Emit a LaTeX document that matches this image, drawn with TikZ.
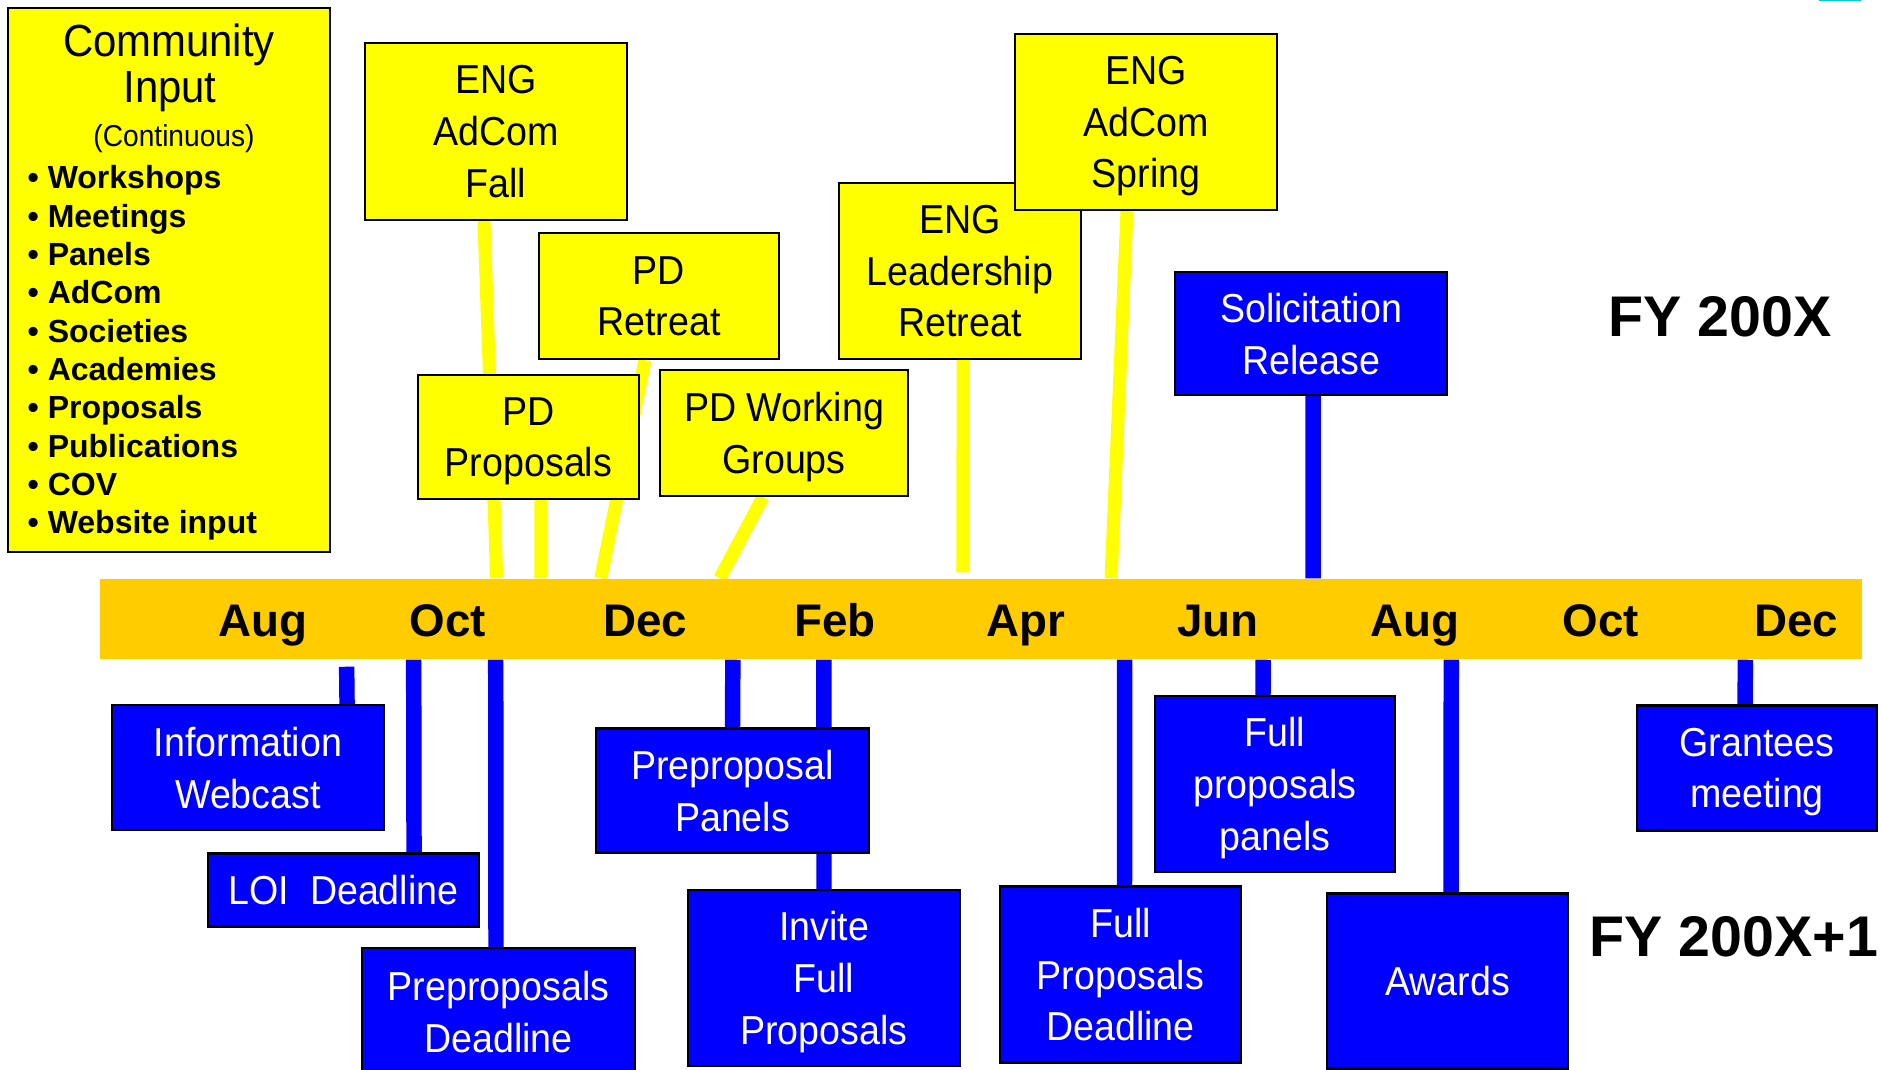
\documentclass[tikz,border=0pt]{standalone}
\usepackage{fontspec}
\setmainfont{Liberation Sans}
\newfontfamily\narrowfont[FakeStretch=0.93]{Liberation Sans}
\definecolor{eventyellow}{RGB}{255,255,0}
\definecolor{eventblue}{RGB}{0,0,255}
\definecolor{baramber}{RGB}{255,204,0}
\definecolor{edgecyan}{RGB}{0,204,204}
\usetikzlibrary{backgrounds}

\tikzset{
  boxsize/.style 2 args={minimum width=#1*0.01cm, minimum height=#2*0.01cm},
  eventbox/.style={draw=black, line width=0.6pt, inner sep=0pt, align=center,
    text depth=0pt, font=\narrowfont\fontsize{11.5}{14.7}\selectfont},
  yellowbox/.style={eventbox, fill=eventyellow, text=black},
  bluebox/.style={eventbox, fill=eventblue, text=white},
  yline/.style={eventyellow, line width=3.7pt},
  bline/.style={eventblue, line width=4.4pt},
  month/.style={font=\bfseries\fontsize{13}{15}\selectfont, anchor=base, inner sep=0pt},
  fylabel/.style={font=\bfseries\fontsize{16.3}{18}\selectfont, inner sep=0pt},
  listitem/.style={font=\bfseries\fontsize{9.1}{11}\selectfont, anchor=base west, inner sep=0pt},
}

\begin{document}
\begin{tikzpicture}[x=0.01cm, y=-0.01cm]
    \useasboundingbox (0,0) rectangle (1881,1070);
    \fill[edgecyan] (1819,0) rectangle (1861,1.5);
    % Time bar
    \node[fill=baramber, minimum width=17.6cm, minimum height=0.8cm, inner sep=0pt] (bar) at (981,619) {};
    \foreach \x/\m [count=\i] in {263/Aug, 448/Oct, 645/Dec, 835/Feb, 1026/Apr,
                                  1218/Jun, 1415/Aug, 1601/Oct, 1796/Dec}
      \node[month] (month\i) at (\x,636) {\m};
    % Community input
    \node[yellowbox, boxsize={322}{544}] (input) at (169,280) {};
    \node[anchor=base, inner sep=0pt, font=\narrowfont\fontsize{12.8}{13}\selectfont] (intitle) at (169,57) {Community};
    \node[anchor=base, inner sep=0pt, font=\narrowfont\fontsize{12.8}{13}\selectfont] (inname) at (170,103) {Input};
    \node[anchor=base, inner sep=0pt, font=\narrowfont\fontsize{8.6}{10}\selectfont] (incont) at (174,147) {(Continuous)};
    \foreach \item [count=\i from 0] in {Workshops, Meetings, Panels, AdCom, Societies,
                                        Academies, Proposals, Publications, COV, Website input}
      \node[listitem] (item\i) at (27,189+38.3*\i) {• \item};
    % Events above the bar
    \node[yellowbox, boxsize={262}{177}] (fall) at (496,131.5) {ENG\\AdCom\\Fall};
    \node[yellowbox, boxsize={240}{126}] (retreat) at (659,296) {PD\\Retreat};
    \node[yellowbox, boxsize={221}{124}] (pdprop) at (528.5,437) {PD\\Proposals};
    \node[yellowbox, boxsize={248}{126}] (groups) at (784,433) {PD Working\\Groups};
    \node[yellowbox, boxsize={242}{176}] (leader) at (960,271) {ENG\\Leadership\\Retreat};
    \node[yellowbox, boxsize={262}{176}] (spring) at (1146,122) {ENG\\AdCom\\Spring};
    \node[bluebox, boxsize={272}{123}] (solicit) at (1311,333.5) {Solicitation\\Release};
    % Events below the bar
    \node[bluebox, boxsize={272}{125}] (webcast) at (248,767.5) {Information\\Webcast};
    \node[bluebox, boxsize={271}{73}] (loi) at (343.5,890) {LOI\ \ Deadline};
    \node[bluebox, boxsize={273}{128}] (ppdead) at (498.5,1012) {Preproposals\\Deadline};
    \node[bluebox, boxsize={273}{124}] (pppanels) at (732.5,790.5) {Preproposal\\Panels};
    \node[bluebox, boxsize={272}{176}] (invite) at (824,978) {Invite\\Full\\Proposals};
    \node[bluebox, boxsize={241}{176}] (fpdead) at (1120.5,974.5) {Full\\Proposals\\Deadline};
    \node[bluebox, boxsize={240}{176}] (fppanels) at (1275,784) {Full\\proposals\\panels};
    \node[bluebox, boxsize={241}{175}] (awards) at (1447.5,981) {Awards};
    \node[bluebox, boxsize={240}{125}] (grantees) at (1757,768) {Grantees\\meeting};
    % Fiscal years
    \node[fylabel] (fyone) at (1720,317) {FY 200X};
    \node[fylabel] (fytwo) at (1734,937) {FY 200X+1};
    % Stems
    \begin{scope}[on background layer]
      \foreach \n/\a/\b in {fall/-0.12/-4.84, pdprop/0.125/-4.40, retreat/-0.14/-3.80,
                            groups/-0.21/-2.61, spring/-0.19/1.30}
        \draw[yline] ([xshift=\a cm]\n.south) -- ([xshift=\b cm]bar.north);
      \draw[yline] ([xshift=0.03cm]leader.south) -- ([xshift=-0.18cm, yshift=0.06cm]bar.north);
      \draw[bline] ([xshift=0.02cm]solicit.south) -- ([xshift=3.32cm]bar.north);
      \draw[bline] ([xshift=-6.34cm, yshift=-0.07cm]bar.south) -- ([xshift=0.99cm]webcast.north);
      \foreach \n/\a/\b in {loi/-5.67/0.705, ppdead/-4.85/-0.025, pppanels/-2.48/0,
                            invite/-1.57/0, fpdead/1.435/0.04, fppanels/2.82/-0.12,
                            awards/4.70/0.035, grantees/7.64/-0.12}
        \draw[bline] ([xshift=\a cm]bar.south) -- ([xshift=\b cm]\n.north);
    \end{scope}
\end{tikzpicture}
\end{document}
